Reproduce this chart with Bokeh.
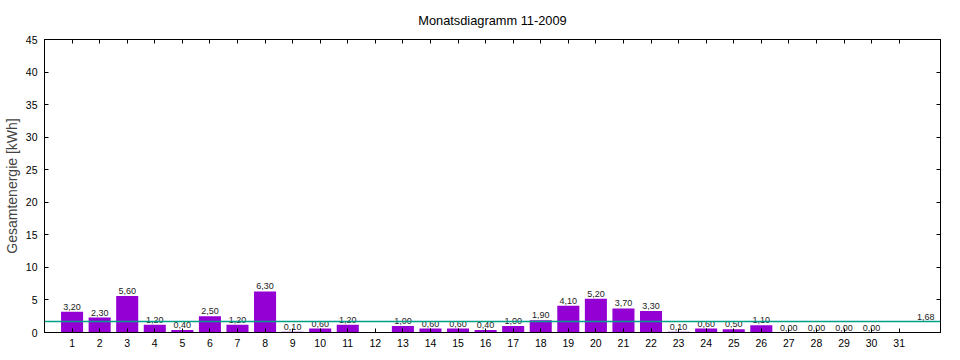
from bokeh.plotting import figure
from bokeh.models import ColumnDataSource, LinearAxis, Range1d, FixedTicker, Span, Label
from bokeh.embed import file_html
from bokeh.resources import INLINE

title = "Monatsdiagramm 11-2009"
y_label = "Gesamtenergie [kWh]"
days = list(range(1, 32))
values = [3.2, 2.3, 5.6, 1.2, 0.4, 2.5, 1.2, 6.3, 0.1, 0.6, 1.2, None,
          1.0, 0.6, 0.6, 0.4, 1.0, 1.9, 4.1, 5.2, 3.7, 3.3, 0.1, 0.6,
          0.5, 1.1, 0.0, 0.0, 0.0, 0.0, None]
y_ticks = [0, 5, 10, 15, 20, 25, 30, 35, 40, 45]

valid = [v for v in values if v is not None]
avg = sum(valid) / len(valid)

def fmt(v):
    return ("%.2f" % v).replace(".", ",")

xs = [d for d, v in zip(days, values) if v is not None]
labels = [fmt(v) for v in valid]
src = ColumnDataSource(dict(x=xs, top=valid, lab=labels))

FONT = "Liberation Sans"

p = figure(frame_width=896, frame_height=293, output_backend="svg", toolbar_location=None,
           x_range=Range1d(0, 32.5), y_range=Range1d(0, 45),
           min_border_left=38, min_border_right=10, min_border_top=39, min_border_bottom=0)

p.vbar(x="x", top="top", width=0.8, bottom=0, source=src, fill_color="#9400d3", line_color=None)
p.text(x="x", y="top", text="lab", source=src, text_align="center", text_baseline="bottom",
       y_offset=-2, text_font_size="9px", text_color="#222222")

p.add_layout(Span(location=avg, dimension="width", line_color="#00a088", line_width=1.5))
p.add_layout(Label(x=32.5, y=avg, x_offset=-6, y_offset=2, text=fmt(avg), text_align="right",
                   text_baseline="bottom", text_font_size="9px", text_color="#222222"))

p.xgrid.visible = False
p.ygrid.visible = False
p.outline_line_color = "black"
p.outline_line_width = 1

for ax in p.xaxis:
    ax.ticker = FixedTicker(ticks=days)
for ax in p.yaxis:
    ax.ticker = FixedTicker(ticks=y_ticks)
    ax.axis_label = y_label

for ax in list(p.xaxis) + list(p.yaxis):
    ax.major_tick_in = 4
    ax.major_tick_out = 0
    ax.minor_tick_in = 0
    ax.minor_tick_out = 0
    ax.major_label_text_font = FONT
    ax.major_label_text_font_size = "10.5px"
    ax.major_label_text_color = "black"
    ax.axis_line_color = "black"
    ax.major_tick_line_color = "black"
    ax.axis_label_text_font = FONT
    ax.axis_label_text_font_size = "14px"
    ax.axis_label_text_font_style = "normal"
    ax.major_label_standoff = 7
    ax.axis_label_standoff = 3
for ax in p.xaxis:
    ax.major_label_standoff = 6

# top axis carries the chart title as its label
top_ax = LinearAxis(ticker=FixedTicker(ticks=days),
                    major_label_overrides={d: "" for d in days},
                    major_tick_in=4, major_tick_out=0, minor_tick_in=0, minor_tick_out=0,
                    major_label_standoff=0,
                    axis_label=title, axis_label_standoff=12,
                    axis_label_text_font=FONT, axis_label_text_font_size="12.8px",
                    axis_label_text_font_style="normal", axis_label_text_color="black")
right_ax = LinearAxis(ticker=FixedTicker(ticks=y_ticks),
                      major_label_overrides={t: "" for t in y_ticks},
                      major_tick_in=4, major_tick_out=0, minor_tick_in=0, minor_tick_out=0,
                      major_label_standoff=0)
p.add_layout(top_ax, "above")
p.add_layout(right_ax, "right")

open("out.html", "w").write(file_html(p, INLINE))
